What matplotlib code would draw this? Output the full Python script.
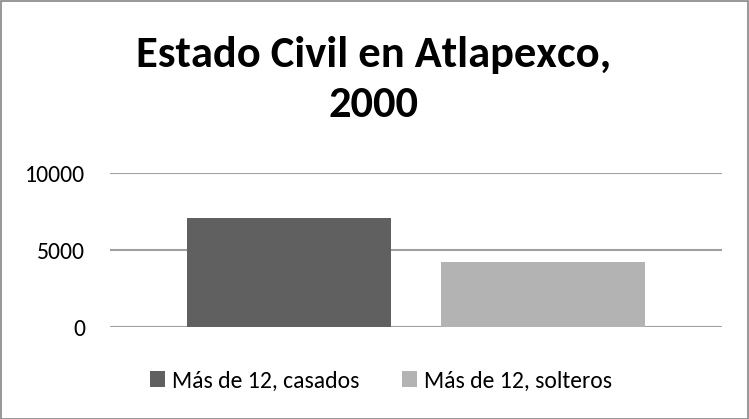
import matplotlib
matplotlib.use("Agg")
import matplotlib.pyplot as plt
from matplotlib.patches import Patch, Rectangle

title = "Estado Civil en Atlapexco,\n2000"
series = ["Más de 12, casados", "Más de 12, solteros"]
values = [7100, 4240]
colors = ["#606060", "#b3b3b3"]
yticks = [0, 5000, 10000]

plt.rcParams['font.family'] = ['Carlito', 'Lato', 'DejaVu Sans']

W, H = 749, 419
fig = plt.figure(figsize=(W / 100, H / 100), dpi=100)
fig.patches.append(Rectangle((0.5 / W, 0.5 / H), (W - 2) / W, (H - 2) / H,
                             transform=fig.transFigure, fill=False,
                             edgecolor="#868686", linewidth=1.2))

ax = fig.add_axes([110 / W, (H - 327) / H, 612 / W, 154 / H])
x = [0, 1]
ax.bar(x, values, width=0.803, color=colors, zorder=3)
ax.set_xlim(-0.705, 1.705)
ax.set_ylim(0, 10000)
ax.set_yticks(yticks)
ax.set_yticklabels([str(v) for v in yticks], fontsize=17)
ax.tick_params(axis='y', length=0, pad=18)
ax.set_xticks([])
for s in ax.spines.values():
    s.set_visible(False)
ax.yaxis.grid(True, color="#a0a0a0", linewidth=1.5, zorder=0)

fig.text(374 / W, 1 - 80 / H, title, ha='center', va='center',
         fontsize=32, fontweight='bold', linespacing=1.4)

handles = [Patch(facecolor=c, edgecolor='none') for c in colors]
fig.legend(handles, series, loc='center', bbox_to_anchor=(381 / W, 1 - 381 / H),
           ncol=2, frameon=False, fontsize=17, handlelength=0.64, handleheight=0.64,
           handletextpad=0.3, columnspacing=1.8)

fig.savefig("out.png", dpi=100)
